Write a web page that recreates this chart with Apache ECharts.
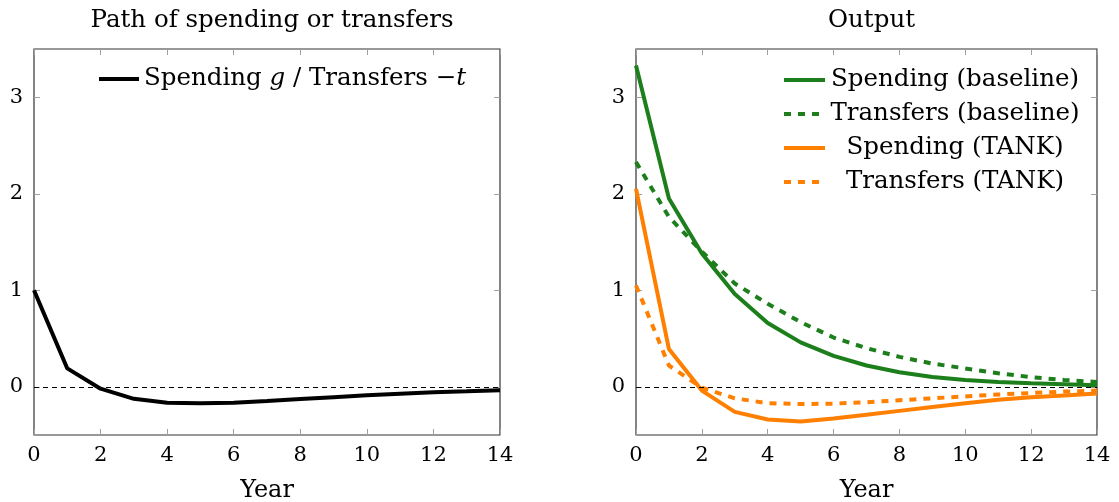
<!DOCTYPE html>
<html>
<head>
<meta charset="utf-8">
<script src="https://cdn.jsdelivr.net/npm/echarts@6/dist/echarts.min.js"></script>
<style>
  html, body { margin: 0; padding: 0; background: #fff; }
  #chart { width: 1119px; height: 502px; }
</style>
</head>
<body>
<div id="chart"></div>
<script>
// Years after the shock
const years = [0, 1, 2, 3, 4, 5, 6, 7, 8, 9, 10, 11, 12, 13, 14];

// Left panel: path of spending g / transfers -t
const pathSeries = [1.0, 0.19, -0.02, -0.125, -0.165, -0.172, -0.165, -0.148, -0.128, -0.108, -0.088, -0.072, -0.058, -0.047, -0.035];

// Right panel: output responses
const spendingBaseline  = [3.33, 1.95, 1.38, 0.96, 0.66, 0.46, 0.32, 0.22, 0.15, 0.10, 0.07, 0.05, 0.035, 0.025, 0.015];
const transfersBaseline = [2.33, 1.76, 1.40, 1.07, 0.86, 0.67, 0.51, 0.40, 0.31, 0.24, 0.19, 0.14, 0.10, 0.07, 0.05];
const spendingTank      = [2.05, 0.39, -0.04, -0.26, -0.34, -0.36, -0.33, -0.29, -0.25, -0.21, -0.17, -0.135, -0.11, -0.09, -0.07];
const transfersTank     = [1.05, 0.22, -0.01, -0.12, -0.17, -0.18, -0.175, -0.16, -0.14, -0.12, -0.10, -0.08, -0.065, -0.05, -0.04];

const yTicks = [0, 1, 2, 3];

const titles = ['Path of spending or transfers', 'Output'];
const legendNames = ['Spending (baseline)', 'Transfers (baseline)', 'Spending (TANK)', 'Transfers (TANK)'];
const pathName = 'Spending g / Transfers −t';

const FONT = 'DejaVu Serif';
const GREEN = '#1c7f1c';
const ORANGE = '#ff7f00';
const TICK = '#a0a0a0';

const pairs = vals => years.map((x, i) => [x, vals[i]]);

const grids = [
  { left: 34, top: 49, width: 466, height: 386 },
  { left: 636, top: 49, width: 461, height: 386 }
];

const chart = echarts.init(document.getElementById('chart'), null, { renderer: 'canvas' });

const tickStyle = { show: true, inside: true, length: 6, lineStyle: { color: TICK } };

const xAxes = [];
const yAxes = [];
grids.forEach((g, gi) => {
  // bottom axis with labels
  xAxes.push({
    type: 'value', gridIndex: gi, min: 0, max: 14, interval: 2, position: 'bottom',
    name: 'Year', nameLocation: 'middle', nameGap: 44,
    nameTextStyle: { fontFamily: FONT, fontSize: 24, color: '#000' },
    axisLine: { show: false, onZero: false },
    axisTick: tickStyle,
    axisLabel: { fontFamily: FONT, fontSize: 21, color: '#000', margin: 10 },
    splitLine: { show: false }
  });
  // mirrored top ticks
  xAxes.push({
    type: 'value', gridIndex: gi, min: 0, max: 14, interval: 2, position: 'top',
    axisLine: { show: false, onZero: false },
    axisTick: tickStyle,
    axisLabel: { show: false },
    splitLine: { show: false }
  });
  yAxes.push({
    type: 'value', gridIndex: gi, min: -0.5, max: 3.5, position: 'left',
    axisLine: { show: false, onZero: false },
    axisTick: Object.assign({ customValues: yTicks }, tickStyle),
    axisLabel: { fontFamily: FONT, fontSize: 21, color: '#000', margin: 11, customValues: yTicks },
    splitLine: { show: false }
  });
  yAxes.push({
    type: 'value', gridIndex: gi, min: -0.5, max: 3.5, position: 'right',
    axisLine: { show: false, onZero: false },
    axisTick: Object.assign({ customValues: yTicks }, tickStyle),
    axisLabel: { show: false, customValues: yTicks },
    splitLine: { show: false }
  });
});

const zeroLine = {
  silent: true, symbol: 'none', label: { show: false },
  lineStyle: { color: '#000', width: 1, type: [5, 4] },
  data: [{ yAxis: 0 }]
};

function lineSeries(name, vals, gi, color, dotted, withZero) {
  const s = {
    name, type: 'line', xAxisIndex: gi * 2, yAxisIndex: gi * 2,
    data: pairs(vals), showSymbol: false, symbol: 'circle',
    lineStyle: { color, width: 4, type: dotted ? [7, 7] : 'solid', cap: 'butt' },
    itemStyle: { color },
    emphasis: { disabled: true },
    z: 3
  };
  if (withZero) s.markLine = zeroLine;
  return s;
}

const LEG_SIZE = 24.5;
const legendRich = {
  r: { fontFamily: FONT, fontSize: LEG_SIZE, color: '#000', lineHeight: 28 },
  i: { fontFamily: FONT, fontSize: LEG_SIZE, color: '#000', fontStyle: 'italic', lineHeight: 28 },
  c: { fontFamily: FONT, fontSize: LEG_SIZE, color: '#000', lineHeight: 28, width: 250, align: 'center' }
};

const legendCommon = {
  padding: 0,
  itemHeight: 14, itemGap: 6,
  itemStyle: { opacity: 0 },
  lineStyle: { width: 4, cap: 'butt' },
  textStyle: { rich: legendRich, lineHeight: 28 }
};

chart.setOption({
  animation: false,
  backgroundColor: '#fff',
  title: titles.map((t, i) => ({
    text: t,
    left: grids[i].left + grids[i].width / 2,
    textAlign: 'center',
    top: 3,
    textStyle: { fontFamily: FONT, fontSize: 24.5, fontWeight: 'normal', color: '#000' }
  })),
  grid: grids.map(g => Object.assign({
    show: true, borderColor: '#333', borderWidth: 1.2, backgroundColor: 'transparent',
    outerBoundsMode: 'none', containLabel: false
  }, g)),
  xAxis: xAxes,
  yAxis: yAxes,
  legend: [
    Object.assign({
      data: [pathName],
      left: 97, top: 65,
      itemWidth: 40,
      formatter: () => '{r|Spending }{i|g}{r| / Transfers −}{i|t}'
    }, legendCommon),
    Object.assign({
      data: legendNames,
      orient: 'vertical',
      left: 782, top: 66,
      itemWidth: 41,
      formatter: name => '{c|' + name + '}'
    }, legendCommon)
  ],
  series: [
    lineSeries(pathName, pathSeries, 0, '#000', false, true),
    lineSeries(legendNames[0], spendingBaseline, 1, GREEN, false, true),
    lineSeries(legendNames[1], transfersBaseline, 1, GREEN, true, false),
    lineSeries(legendNames[2], spendingTank, 1, ORANGE, false, false),
    lineSeries(legendNames[3], transfersTank, 1, ORANGE, true, false)
  ]
});
</script>
</body>
</html>
